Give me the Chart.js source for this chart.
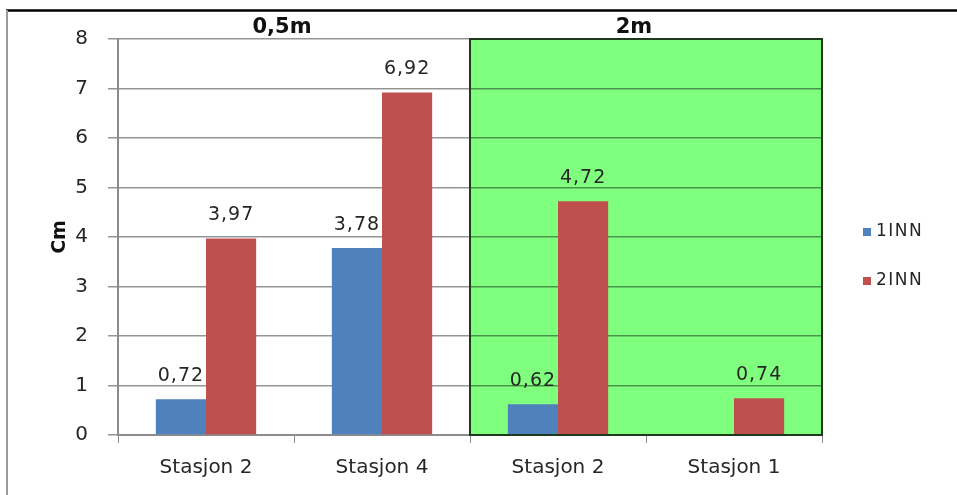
<!DOCTYPE html>
<html>
<head>
<meta charset="utf-8">
<script src="https://cdn.jsdelivr.net/npm/chart.js@4/dist/chart.umd.min.js"></script>
<style>
  html, body { margin: 0; padding: 0; background: #ffffff; }
  #wrap { width: 957px; height: 495px; }
</style>
</head>
<body>
<div id="wrap"><canvas id="c" width="957" height="495"></canvas></div>
<script>
// Station measurements (cm) per sampling depth
const categories = ['Stasjon 2', 'Stasjon 4', 'Stasjon 2', 'Stasjon 1'];
const seriesNames = ['1INN', '2INN'];
const inn1 = [0.72, 3.78, 0.62, null];
const inn2 = [3.97, 6.92, 4.72, 0.74];
const groupLabels = ['0,5m', '2m'];
const groupSpans = [[0, 1], [2, 3]];
const yTicks = [0, 1, 2, 3, 4, 5, 6, 7, 8];

const BLUE = '#4f81bd';
const RED = '#c0504d';
const GREEN = '#80ff7f';
const TEXT = '#262626';
const FONT = "'DejaVu Sans', Verdana, sans-serif";

function fmt(v) { return String(v.toFixed(2)).replace('.', ','); }

function catEdges(xs, i) {
  const n = xs.ticks.length;
  const c = xs.getPixelForTick(i);
  const w = n > 1 ? (xs.getPixelForTick(1) - xs.getPixelForTick(0)) : xs.width;
  return [c - w / 2, c + w / 2];
}

const decorPlugin = {
  id: 'decor',
  beforeDraw(chart) {
    const { ctx, chartArea: a, scales: { x } } = chart;
    // shaded block behind the second depth group
    const [g0, g1] = groupSpans[1];
    const l = catEdges(x, g0)[0];
    const r = catEdges(x, g1)[1];
    ctx.save();
    ctx.fillStyle = GREEN;
    ctx.fillRect(l, a.top, r - l, a.bottom - a.top);
    ctx.restore();
  },
  afterDatasetsDraw(chart) {
    const { ctx, chartArea: a, scales: { x } } = chart;
    ctx.save();
    // border of shaded block
    const [g0, g1] = groupSpans[1];
    const l = catEdges(x, g0)[0];
    const r = catEdges(x, g1)[1];
    ctx.strokeStyle = '#1e3a1e';
    ctx.lineWidth = 2;
    ctx.strokeRect(l, a.top, r - l, a.bottom - a.top);

    // value labels above bars
    ctx.fillStyle = TEXT;
    ctx.font = "19px " + FONT;
    ctx.textAlign = 'center';
    ctx.textBaseline = 'alphabetic';
    if ('letterSpacing' in ctx) ctx.letterSpacing = '1px';
    chart.data.datasets.forEach((ds, di) => {
      const meta = chart.getDatasetMeta(di);
      meta.data.forEach((bar, i) => {
        const v = ds.data[i];
        if (v === null || v === undefined) return;
        ctx.fillText(fmt(v), bar.x, bar.y - 18);
      });
    });
    if ('letterSpacing' in ctx) ctx.letterSpacing = '0px';

    // depth group headings
    ctx.font = "bold 21px " + FONT;
    ctx.fillStyle = '#111111';
    ctx.textBaseline = 'alphabetic';
    groupLabels.forEach((g, gi) => {
      const [s, e] = groupSpans[gi];
      const cx = (catEdges(x, s)[0] + catEdges(x, e)[1]) / 2 - 12;
      ctx.fillText(g, cx, 33);
    });

    // y-axis title
    ctx.save();
    ctx.translate(60, 237);
    ctx.rotate(-Math.PI / 2);
    ctx.font = "bold 19px " + FONT;
    ctx.textAlign = 'center';
    ctx.textBaseline = 'middle';
    ctx.fillText('Cm', 0, 0);
    ctx.restore();
    ctx.restore();
  },
  afterDraw(chart) {
    const { ctx } = chart;
    ctx.save();
    // legend
    ctx.font = "17px " + FONT;
    ctx.textBaseline = 'middle';
    ctx.textAlign = 'left';
    const ly = [232, 281];
    chart.data.datasets.forEach((ds, i) => {
      ctx.fillStyle = ds.backgroundColor;
      ctx.fillRect(863, ly[i] - 4, 8, 8);
      ctx.fillStyle = TEXT;
      if ('letterSpacing' in ctx) ctx.letterSpacing = '1.5px';
      ctx.fillText(ds.label, 876, ly[i]);
      if ('letterSpacing' in ctx) ctx.letterSpacing = '0px';
    });
    // outer frame
    ctx.strokeStyle = '#000000';
    ctx.lineWidth = 2.5;
    ctx.beginPath();
    ctx.moveTo(6, 10.5);
    ctx.lineTo(957, 10.5);
    ctx.stroke();
    ctx.strokeStyle = '#9a9a9a';
    ctx.lineWidth = 2;
    ctx.beginPath();
    ctx.moveTo(7, 10);
    ctx.lineTo(7, 495);
    ctx.stroke();
    ctx.restore();
  }
};

new Chart(document.getElementById('c'), {
  type: 'bar',
  data: {
    labels: categories,
    datasets: [
      { label: seriesNames[0], data: inn1, backgroundColor: BLUE },
      { label: seriesNames[1], data: inn2, backgroundColor: RED }
    ]
  },
  options: {
    responsive: false,
    animation: false,
    devicePixelRatio: 1,
    layout: { padding: { left: 0, right: 135, top: 39, bottom: 0 } },
    categoryPercentage: 0.57,
    barPercentage: 1.0,
    plugins: { legend: { display: false }, tooltip: { enabled: false } },
    scales: {
      x: {
        offset: true,
        grid: { display: true, offset: true, drawOnChartArea: false, drawTicks: true, tickLength: 8, color: '#8c8c8c' },
        border: { display: true, color: '#8c8c8c', width: 2 },
        ticks: { color: TEXT, font: { family: FONT, size: 20 }, padding: 13, maxRotation: 0 },
        afterFit(s) { s.height = 60; }
      },
      y: {
        min: 0, max: 8,
        afterBuildTicks(s) { s.ticks = yTicks.map(v => ({ value: v })); },
        grid: { color: 'rgba(0,0,0,0.42)', tickLength: 10, lineWidth: 1.5 },
        border: { display: true, color: '#8c8c8c', width: 2 },
        ticks: { color: TEXT, font: { family: FONT, size: 20 }, padding: 20 },
        afterFit(s) { s.width = 118; }
      }
    }
  },
  plugins: [decorPlugin]
});
</script>
</body>
</html>
